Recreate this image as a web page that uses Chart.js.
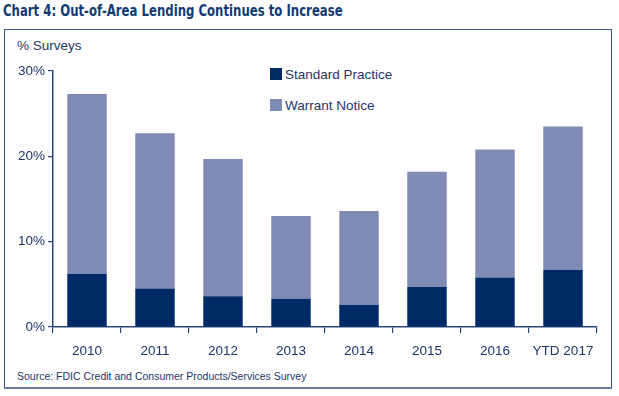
<!DOCTYPE html>
<html>
<head>
<meta charset="utf-8">
<script src="https://cdn.jsdelivr.net/npm/chart.js@4/dist/chart.umd.min.js"></script>
<style>
  html,body{margin:0;padding:0;background:#fff;}
  body{width:619px;height:396px;position:relative;overflow:hidden;font-family:"Liberation Sans",Arial,sans-serif;color:#1d3565;}
  #title{position:absolute;left:3px;top:2px;font-family:"Liberation Sans Narrow","DejaVu Sans Condensed",sans-serif;font-stretch:condensed;font-weight:bold;font-size:15.5px;color:#143a73;white-space:nowrap;transform:scaleX(0.84);transform-origin:0 0;}
  #frame{position:absolute;left:4px;top:29px;width:608px;height:360px;border:1.5px solid #3b5586;border-bottom:2px solid #6d7ea3;box-sizing:border-box;}
  #ylab{position:absolute;left:17px;top:38px;font-size:13.5px;color:#26375c;}
  #source{position:absolute;left:17px;top:370px;font-size:10.5px;color:#1d3565;}
  #legend{position:absolute;left:270px;top:67px;font-size:13.5px;color:#1d3565;}
  .li{position:absolute;left:0;white-space:nowrap;height:16px;line-height:16px;}
  .sw{display:inline-block;width:12px;height:12px;vertical-align:-1px;margin-right:3px;}
  canvas{position:absolute;left:0;top:0;}
</style>
</head>
<body>
<div id="title">Chart 4: Out-of-Area Lending Continues to Increase</div>
<div id="frame"></div>
<div id="ylab">% Surveys</div>
<div id="legend"></div>
<div id="source">Source: FDIC Credit and Consumer Products/Services Survey</div>
<canvas id="c" width="619" height="396"></canvas>
<script>
const categories = ["2010","2011","2012","2013","2014","2015","2016","YTD 2017"];
const standardPractice = [6.2, 4.5, 3.6, 3.3, 2.6, 4.7, 5.8, 6.7];
const warrantNotice = [21.1, 18.2, 16.1, 9.7, 11.0, 13.5, 15.0, 16.8];
const seriesNames = ["Standard Practice","Warrant Notice"];
const seriesColors = ["#002a66","#7f8bb5"];
const yTicks = [0, 10, 20, 30];

const axisColor = "#2a4578";
const tickFont = {family:"'Liberation Sans', Arial, sans-serif", size:13.5};

// HTML legend built from series arrays
const legend = document.getElementById('legend');
seriesNames.forEach((n,i)=>{
  const d=document.createElement('div');
  d.className='li';
  d.style.top=(i*31)+'px';
  d.innerHTML='<span class="sw" style="background:'+seriesColors[i]+'"></span>'+n;
  legend.appendChild(d);
});

new Chart(document.getElementById('c'), {
  type:'bar',
  data:{
    labels:categories,
    datasets:[
      {label:seriesNames[0], data:standardPractice, backgroundColor:seriesColors[0], borderWidth:0},
      {label:seriesNames[1], data:warrantNotice, backgroundColor:seriesColors[1], borderWidth:0}
    ]
  },
  options:{
    responsive:false,
    animation:false,
    devicePixelRatio:1,
    layout:{padding:{left:0,right:22,top:71,bottom:39}},
    plugins:{legend:{display:false},tooltip:{enabled:false},title:{display:false}},
    datasets:{bar:{categoryPercentage:1.0,barPercentage:0.58}},
    scales:{
      x:{
        stacked:true,
        grid:{display:true,drawOnChartArea:false,offset:true,tickLength:6,color:axisColor,lineWidth:1.2},
        border:{display:true,color:axisColor,width:1.5},
        ticks:{color:"#1d3565",font:tickFont,padding:10,maxRotation:0,autoSkip:false},
        afterFit:(s)=>{s.height=30;}
      },
      y:{
        stacked:true,
        min:0,max:30,
        afterBuildTicks:(s)=>{s.ticks=yTicks.map(v=>({value:v}));},
        grid:{display:true,drawOnChartArea:false,tickLength:5,color:axisColor,lineWidth:1.2},
        border:{display:true,color:axisColor,width:1.5},
        ticks:{color:"#1d3565",font:tickFont,padding:3,callback:(v)=>v+'%'},
        afterFit:(s)=>{s.width=53;}
      }
    }
  }
});
</script>
</body>
</html>
